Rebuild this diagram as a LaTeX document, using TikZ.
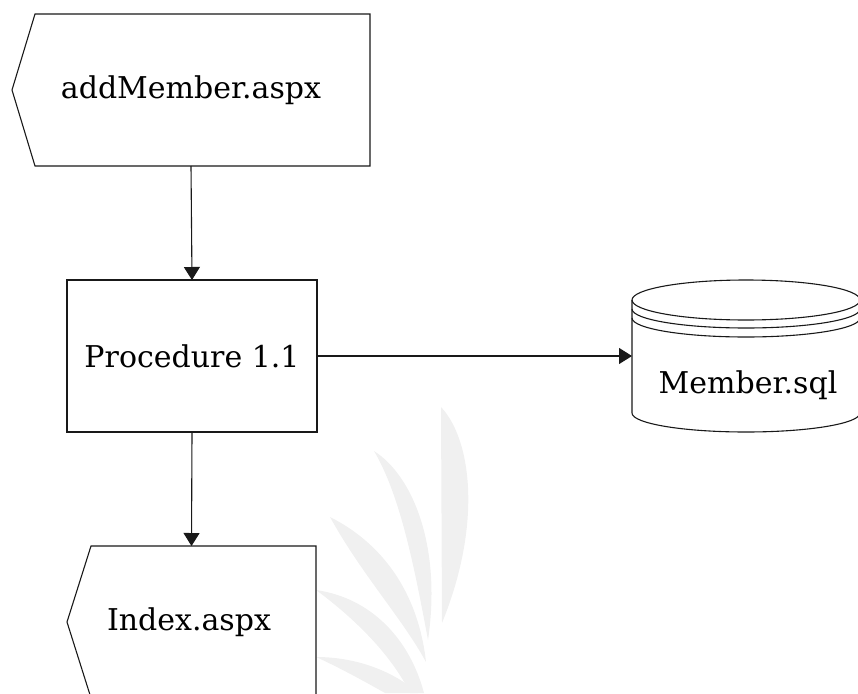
\documentclass[tikz,border=0pt]{standalone}
\usepackage{fontspec}
\setmainfont{DejaVu Serif}
\usetikzlibrary{arrows.meta}
\tikzset{
  line/.style={draw=black!90, line width=1.1pt},
  flow/.style={line, -{Triangle[length=13pt,width=16pt]}},
  box/.style={rectangle, inner sep=0pt, outer sep=0pt},
  leaf/.style={fill=black!6, draw=none},
  lbl/.style={font=\fontsize{30}{34}\selectfont},
}
\begin{document}
\begin{tikzpicture}[x=1pt,y=-1pt]
\clip (0,0) rectangle (858,693);
% watermark leaves
\fill[leaf] (441,407) .. controls (472,440) and (482,525) .. (442,623) -- cycle;
\fill[leaf] (374,451) .. controls (412,475) and (442,545) .. (428,640) .. controls (414,565) and (400,495) .. (374,451) -- cycle;
\fill[leaf] (330,517) .. controls (380,542) and (418,590) .. (426,662) .. controls (402,618) and (362,575) .. (330,517) -- cycle;
\fill[leaf] (316,590) .. controls (372,598) and (410,640) .. (424,693) -- (410,693) .. controls (390,652) and (350,615) .. (316,590) -- cycle;
\fill[leaf] (316,657) .. controls (362,657) and (398,675) .. (418,693) -- (385,693) .. controls (362,680) and (338,667) .. (316,657) -- cycle;

% nodes
\node[box, lbl, minimum width=358pt, minimum height=152pt] (top) at (191,90) {addMember.aspx};
\draw[line] (top.north east) -- (top.south east) -- ([xshift=23pt]top.south west)
  -- (top.west) -- ([xshift=23pt]top.north west) -- cycle;

\node[box, lbl, line, minimum width=250pt, minimum height=152pt] (proc) at (192,356) {Procedure 1.1};

\node[box, minimum width=249pt, minimum height=152pt] (idx) at (191.5,622) {};
\draw[line] (idx.north east) -- (idx.south east) -- ([xshift=24pt]idx.south west)
  -- (idx.west) -- ([xshift=24pt]idx.north west) -- cycle;
\node[box, lbl] (idxl) at (189,622) {Index.aspx};

% database cylinder
\node[box, minimum width=228pt, minimum height=152pt] (db) at (746,356) {};
\draw[line] (746,300) ellipse [x radius=114pt, y radius=20pt];
\draw[line] (632,309) arc[start angle=180, end angle=360, x radius=114pt, y radius=19pt];
\draw[line] (632,318) arc[start angle=180, end angle=360, x radius=114pt, y radius=19pt];
\draw[line] (632,300) -- (632,413) arc[start angle=180, end angle=360, x radius=114pt, y radius=19pt] -- (860,300);
\node[box, lbl] (dbl) at (748,385) {Member.sql};

% connectors
\draw[flow] (top.south) -- (proc.north);
\draw[flow] (proc.south) -- (idx.north);
\draw[flow] (proc.east) -- (db.west);
\end{tikzpicture}
\end{document}
